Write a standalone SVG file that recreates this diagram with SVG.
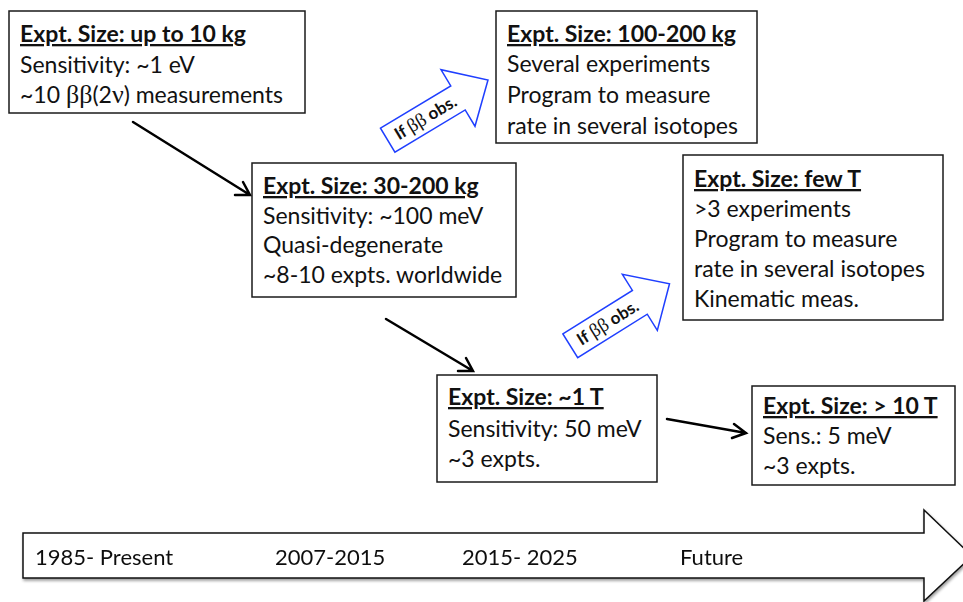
<svg xmlns="http://www.w3.org/2000/svg" width="963" height="602" viewBox="0 0 963 602">
<defs>
<style>
.box{fill:#fff;stroke:#1a1a1a;stroke-width:1.5}
.t{font-family:Lato,"Liberation Sans",sans-serif;font-size:23px;fill:#111}
.h{font-weight:bold;text-decoration:underline}
.g{font-family:"Liberation Serif",serif;font-size:26px}
.conn{stroke:#000;stroke-width:2.5;fill:none;stroke-linecap:round}
.blue{fill:#fff;stroke:#1f3fff;stroke-width:1.5;stroke-linejoin:miter}
.bl{font-family:Lato,"Liberation Sans",sans-serif;font-size:17px;font-weight:bold;fill:#111}
.bg{font-family:"Liberation Serif",serif;font-weight:normal;font-size:19px}
.tl{font-family:Lato,"Liberation Sans",sans-serif;font-size:22px;fill:#111}
</style>
<filter id="sh" x="-5%" y="-20%" width="110%" height="150%">
<feGaussianBlur in="SourceAlpha" stdDeviation="1.5"/>
<feOffset dx="1" dy="2" result="b"/>
<feComponentTransfer><feFuncA type="linear" slope="0.4"/></feComponentTransfer>
<feMerge><feMergeNode/><feMergeNode in="SourceGraphic"/></feMerge>
</filter>
</defs>
<rect width="963" height="602" fill="#fff"/>

<g id="connectors">
<path class="conn" d="M133,122 L250,195 M243,182 L250,195 L235,195"/>
<path class="conn" d="M386,319 L473,371 M466,358 L473,371 L458,371"/>
<path class="conn" d="M667,419 L746,433 M734,424 L746,433 L732,438"/>
<g id="arrow-up1" transform="translate(387.7,140.2) rotate(-31)">
<path class="blue" d="M0,-14 L82,-14 L82,-33 L117,0 L82,33 L82,14 L0,14 Z"/>
<text class="bl" x="44" y="6" text-anchor="middle">If <tspan class="bg">ββ</tspan> obs.</text>
</g>
<g id="arrow-up2" transform="translate(570.3,345.8) rotate(-32)">
<path class="blue" d="M0,-14 L82,-14 L82,-33 L117,0 L82,33 L82,14 L0,14 Z"/>
<text class="bl" x="44" y="6" text-anchor="middle">If <tspan class="bg">ββ</tspan> obs.</text>
</g>
</g>

<g id="node-10kg">
<rect class="box" x="9" y="11" width="296" height="102"/>
<text class="t h" x="20" y="42">Expt. Size: up to 10 kg</text>
<text class="t" x="20" y="73">Sensitivity: ~1 eV</text>
<text class="t" x="20" y="103">~10 <tspan class="g">ββ</tspan>(2<tspan class="g">ν</tspan>) measurements</text>
</g>

<g id="node-30-200kg">
<rect class="box" x="252" y="163" width="264" height="134"/>
<text class="t h" x="263" y="194">Expt. Size: 30-200 kg</text>
<text class="t" x="263" y="224">Sensitivity: ~100 meV</text>
<text class="t" x="263" y="253">Quasi-degenerate</text>
<text class="t" x="263" y="283">~8-10 expts. worldwide</text>
</g>

<g id="node-1T">
<rect class="box" x="437" y="375" width="220" height="107"/>
<text class="t h" x="448" y="405">Expt. Size: ~1 T</text>
<text class="t" x="448" y="437">Sensitivity: 50 meV</text>
<text class="t" x="448" y="467">~3 expts.</text>
</g>

<g id="node-100-200kg">
<rect class="box" x="496" y="11" width="261" height="132"/>
<text class="t h" x="507" y="42">Expt. Size: 100-200 kg</text>
<text class="t" x="507" y="72">Several experiments</text>
<text class="t" x="507" y="103">Program to measure</text>
<text class="t" x="507" y="134">rate in several isotopes</text>
</g>

<g id="node-fewT">
<rect class="box" x="683" y="155" width="260" height="165"/>
<text class="t h" x="694" y="187">Expt. Size: few T</text>
<text class="t" x="694" y="217">&gt;3 experiments</text>
<text class="t" x="694" y="247">Program to measure</text>
<text class="t" x="694" y="277">rate in several isotopes</text>
<text class="t" x="694" y="307">Kinematic meas.</text>
</g>

<g id="node-10T">
<rect class="box" x="752" y="386" width="203" height="99"/>
<text class="t h" x="763" y="414">Expt. Size: &gt; 10 T</text>
<text class="t" x="763" y="444">Sens.: 5 meV</text>
<text class="t" x="763" y="474">~3 expts.</text>
</g>

<g id="timeline" filter="url(#sh)">
<path d="M23,533 L924,533 L924,510 L972,556 L924,601 L924,578 L23,578 Z" fill="#fff" stroke="#111" stroke-width="1.5"/>
<text class="tl" x="35" y="565">1985- Present</text>
<text class="tl" x="275" y="565">2007-2015</text>
<text class="tl" x="462" y="565">2015- 2025</text>
<text class="tl" x="680" y="565">Future</text>
</g>
</svg>
